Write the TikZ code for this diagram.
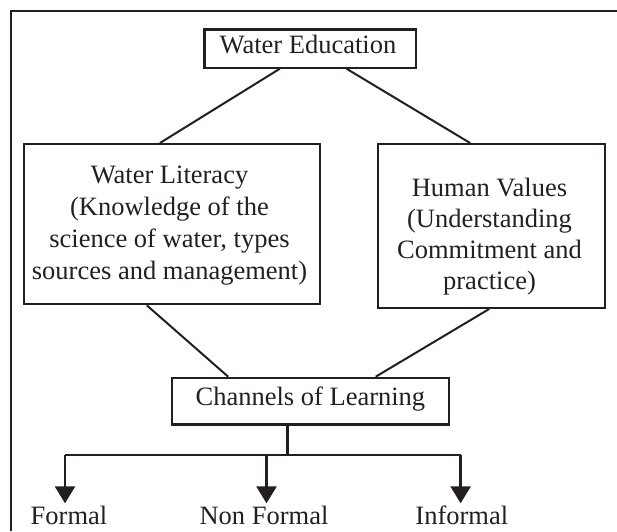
\documentclass[tikz,border=0pt]{standalone}
\usepackage{fontspec}
\setmainfont{Liberation Serif}
\usetikzlibrary{arrows.meta,calc}
\definecolor{ink}{HTML}{231F20}
\begin{document}
\begin{tikzpicture}[x=1pt,y=-1pt,
  box/.style={draw=ink,line width=2.3pt,inner sep=0pt,anchor=north west},
  txt/.style={text=ink,font=\fontsize{26.5}{32}\selectfont,inner sep=0pt,anchor=base},
  conn/.style={draw=ink,line width=2pt},
  bar/.style={draw=ink,line width=2.4pt},
  arr/.style={draw=ink,line width=2.6pt,-{Triangle[width=20pt,length=17pt]}},
  frame/.style={draw=ink,line width=2.3pt}]
\useasboundingbox (0,0) rectangle (617,531);
% outer frame (top and left edges)
\coordinate (ftr) at (617,11);
\coordinate (ftl) at (11,11);
\coordinate (fbl) at (11,531);
\draw[frame] (ftr) -- (ftl) -- (fbl);
% boxes
\node[box, minimum width=211.5pt, minimum height=38.2pt] (we) at (203.4,28.3) {};
\node[txt] (wet) at (308,53.9) {Water Education};
\node[box, minimum width=296pt, minimum height=160pt] (wl) at (23,143) {};
\node[txt] (wlt) at (169.5,183.3) {\begin{tabular}[t]{@{}c@{}}Water Literacy\\(Knowledge of the\\science of water, types\\sources and management)\end{tabular}};
\node[box, minimum width=226.5pt, minimum height=163.7pt] (hv) at (377,143) {};
\node[txt, font=\fontsize{26.5}{31}\selectfont] (hvt) at (489.5,196.7) {\begin{tabular}[t]{@{}c@{}}Human Values\\(Understanding\\Commitment and\\practice)\end{tabular}};
\node[box, minimum width=276.6pt, minimum height=46.6pt] (cl) at (171,376.7) {};
\node[txt] (clt) at (310.4,405) {Channels of Learning};
% connectors
\draw[conn] ($(we.south west)!0.357!(we.south east)$) -- ($(wl.north west)!0.459!(wl.north east)$);
\draw[conn] ($(we.south west)!0.670!(we.south east)$) -- ($(hv.north west)!0.407!(hv.north east)$);
\draw[conn] ($(wl.south west)!0.415!(wl.south east)$) -- ($(cl.north west)!0.205!(cl.north east)$);
\draw[conn] ($(hv.south west)!0.49!(hv.south east)$) -- ($(cl.north west)!0.734!(cl.north east)$);
% labels
\node[txt] (formal) at (69,524.5) {Formal};
\node[txt] (nonformal) at (264,524.5) {Non Formal};
\node[txt] (informal) at (461.8,524.5) {Informal};
% branching
\coordinate (cb) at ($(cl.south west)!0.418!(cl.south east)$);
\coordinate (bj) at (cb |- 0,455);
\coordinate (b1) at (65,455);
\coordinate (b2) at (266.5,455);
\coordinate (b3) at (460.6,455);
\draw[bar] (cb) -- (bj);
\draw[bar] (b1) -- (b3);
\draw[arr] (b1) -- (b1 |- 0,503.3);
\draw[arr] (b2) -- (b2 |- 0,503.3);
\draw[arr] (b3) -- (b3 |- 0,503.3);
\end{tikzpicture}
\end{document}
